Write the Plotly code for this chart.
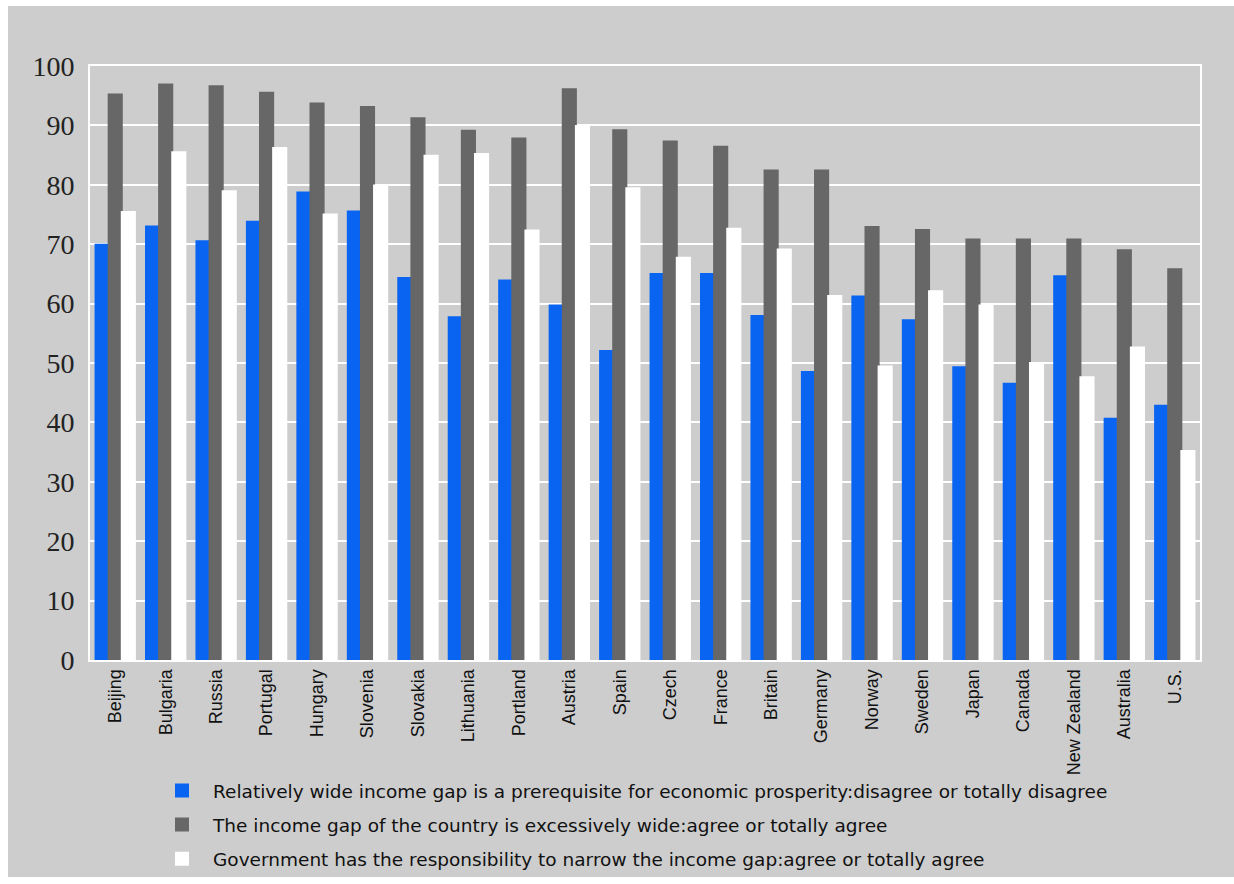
import plotly.graph_objects as go

countries = ["Beijing", "Bulgaria", "Russia", "Portugal", "Hungary", "Slovenia", "Slovakia",
             "Lithuania", "Portland", "Austria", "Spain", "Czech", "France", "Britain",
             "Germany", "Norway", "Sweden", "Japan", "Canada", "New Zealand", "Australia", "U.S."]

prerequisite_disagree = [69.9, 73.0, 70.5, 73.8, 78.7, 75.5, 64.3, 57.7, 63.9, 59.7, 52.0,
                         65.0, 65.0, 57.9, 48.5, 61.2, 57.2, 49.3, 46.5, 64.6, 40.6, 42.8]
gap_too_wide_agree = [95.2, 96.9, 96.6, 95.5, 93.7, 93.1, 91.2, 89.1, 87.8, 96.1, 89.2,
                      87.3, 86.4, 82.4, 82.4, 72.9, 72.4, 70.8, 70.8, 70.8, 69.0, 65.8]
government_responsible_agree = [75.4, 85.5, 78.9, 86.2, 75.0, 79.9, 84.9, 85.2, 72.3, 89.9, 79.4,
                                67.7, 72.6, 69.1, 61.3, 49.4, 62.1, 59.7, 50.0, 47.6, 52.6, 35.2]

series_names = [
    "Relatively wide income gap is a prerequisite for economic prosperity:disagree or totally disagree",
    "The income gap of the country is excessively wide:agree or totally agree",
    "Government has the responsibility to narrow the income gap:agree or totally agree",
]
y_ticks = [0, 10, 20, 30, 40, 50, 60, 70, 80, 90, 100]

colors = ["#0a64f2", "#676767", "#ffffff"]
BG = "#cdcdcd"

fig = go.Figure()
for name, vals, col, grp in zip(series_names,
                                [prerequisite_disagree, gap_too_wide_agree, government_responsible_agree],
                                colors, ["a", "b", "c"]):
    fig.add_trace(go.Bar(x=countries, y=vals, name=name, marker_color=col,
                         marker_line_color=col, marker_line_width=2, legendgroup=grp))

W, H = 1234, 884
L, R, T, B = 90, 34, 66, 224
pw, ph = W - L - R, H - T - B

def px_x(p):
    return (p - L) / pw

def px_y(q):
    return (H - B - q) / ph

fig.update_layout(
    width=W, height=H,
    margin=dict(l=L, r=R, t=T, b=B, pad=0, autoexpand=False),
    paper_bgcolor="white",
    plot_bgcolor=BG,
    barmode="group",
    bargap=0.22,
    bargroupgap=0,
    showlegend=True,
    legend=dict(
        orientation="v",
        xref="container", yref="container",
        x=151 / W, xanchor="left",
        y=1 - 772 / H, yanchor="top",
        font=dict(family="DejaVu Sans, Arial, sans-serif", size=18.5, color="#111111"),
        bgcolor="rgba(0,0,0,0)",
        itemwidth=52,
        tracegroupgap=7,
        traceorder="grouped",
        itemclick=False,
    ),
    shapes=[dict(type="rect", xref="paper", yref="paper",
                 x0=px_x(8), x1=px_x(1234), y0=px_y(877), y1=px_y(6),
                 fillcolor=BG, line_width=0, layer="below")],
    xaxis=dict(
        tickangle=-90,
        tickfont=dict(family="Liberation Sans, Arial, sans-serif", size=18, color="#111111"),
        showgrid=False,
        showline=True, linecolor="white", linewidth=2, mirror=True,
        ticks="", ticklabelstandoff=0,
        range=[-0.5, len(countries) - 0.5],
    ),
    yaxis=dict(
        range=[0, 100],
        tickvals=y_ticks,
        ticktext=[str(v) for v in y_ticks],
        tickfont=dict(family="Liberation Serif, Times New Roman, serif", size=28, color="#222222"),
        showgrid=True, gridcolor="white", gridwidth=2,
        showline=True, linecolor="white", linewidth=2, mirror=True,
        zeroline=False,
        ticks="", ticklabelstandoff=8,
    ),
)

fig.write_html("out.html")
